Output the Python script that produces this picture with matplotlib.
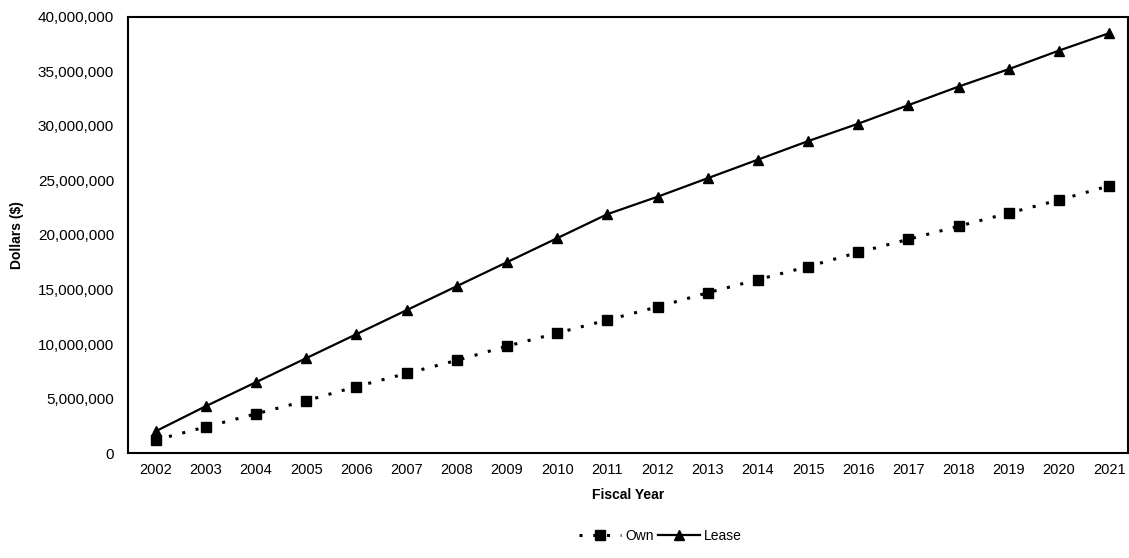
import matplotlib.pyplot as plt
from matplotlib.ticker import FuncFormatter

plt.rcParams['font.family'] = ['Liberation Sans', 'DejaVu Sans']

# Data
years = [2002, 2003, 2004, 2005, 2006, 2007, 2008, 2009, 2010, 2011,
         2012, 2013, 2014, 2015, 2016, 2017, 2018, 2019, 2020, 2021]
own = [1.2, 2.4, 3.6, 4.8, 6.1, 7.3, 8.5, 9.8, 11.0, 12.2,
       13.4, 14.7, 15.9, 17.1, 18.4, 19.6, 20.8, 22.0, 23.2, 24.5]
lease = [2.0, 4.3, 6.5, 8.7, 10.9, 13.1, 15.3, 17.5, 19.7, 21.9,
         23.5, 25.2, 26.9, 28.6, 30.2, 31.9, 33.6, 35.2, 36.9, 38.5]
own = [v * 1e6 for v in own]
lease = [v * 1e6 for v in lease]
xticks = range(len(years))

fig = plt.figure(figsize=(11.29, 5.58), dpi=100)
ax = fig.add_axes([0.1134, 0.188, 0.886, 0.782])

ax.plot(xticks, own, color="black", linestyle=(0, (1, 3.5)), linewidth=2.2,
        marker="s", markersize=7, label="Own")
ax.plot(xticks, lease, color="black", linestyle="-", linewidth=1.6,
        marker="^", markersize=7, label="Lease")

ax.set_xlim(-0.55, 19.38)
ax.set_ylim(0, 40e6)
ax.set_yticks(range(0, 40000001, 5000000))
ax.yaxis.set_major_formatter(FuncFormatter(lambda v, p: f"{int(v):,}"))
ax.set_xticks(xticks)
ax.set_xticklabels([str(y) for y in years])
ax.tick_params(axis="y", length=0, labelsize=11, pad=10)
ax.tick_params(axis="x", length=0, labelsize=10.5, pad=7)
for s in ax.spines.values():
    s.set_linewidth(1.5)

ax.set_xlabel("Fiscal Year", fontsize=10, fontweight="bold", labelpad=8)
ax.set_ylabel("Dollars ($)", fontsize=10, fontweight="bold", labelpad=10)

fig.legend(loc="center", bbox_to_anchor=(0.585, 0.04), ncol=2, frameon=False,
           fontsize=10, handlelength=3, columnspacing=0.3, handletextpad=0.3)

plt.savefig("out.png", dpi=100)
